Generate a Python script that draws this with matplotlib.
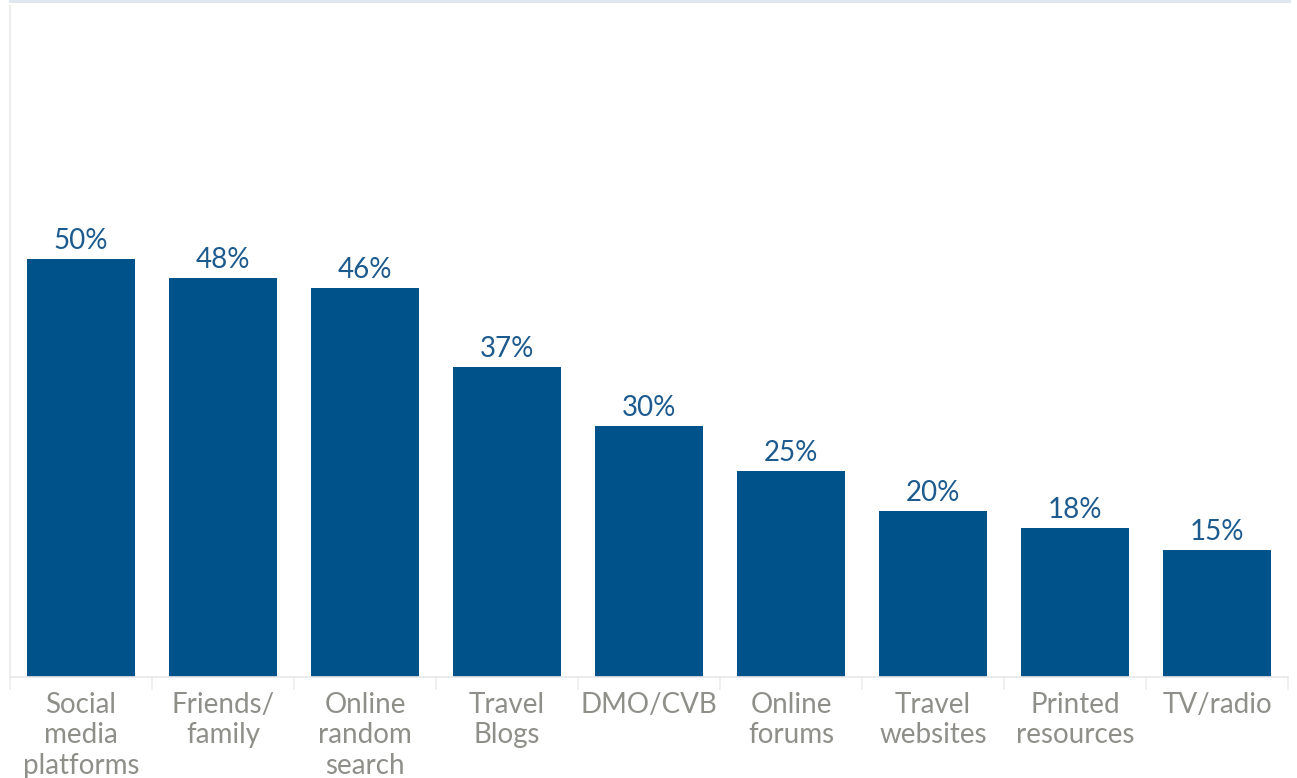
import matplotlib.pyplot as plt
import matplotlib as mpl
from matplotlib.lines import Line2D

mpl.use('Agg')
plt.rcParams['font.family'] = ['Lato', 'DejaVu Sans']

# data
categories = ["Social\nmedia\nplatforms", "Friends/\nfamily", "Online\nrandom\nsearch",
              "Travel\nBlogs", "DMO/CVB", "Online\nforums", "Travel\nwebsites",
              "Printed\nresources", "TV/radio"]
# bar heights as drawn (labels are rounded shares)
values = [50, 47.7, 46.5, 37.1, 30.0, 24.6, 19.9, 17.8, 15.2]
value_labels = ["50%", "48%", "46%", "37%", "30%", "25%", "20%", "18%", "15%"]

bar_color = '#00538a'
label_color = '#1d5a8e'
tick_color = '#8f8f8a'

fig = plt.figure(figsize=(12.97, 7.78), dpi=100)
ax = fig.add_axes([10 / 1297, 101 / 778, 1278 / 1297, 671 / 778])

x = list(range(len(values)))
bars = ax.bar(x, values, width=0.755, color=bar_color, zorder=2)

for b, v, lab in zip(bars, values, value_labels):
    ax.text(b.get_x() + b.get_width() / 2, v + 0.6, lab, ha='center', va='bottom',
            fontsize=20, color=label_color)

ax.set_xlim(-0.5, len(values) - 0.5)
ax.set_ylim(0, 80.3)
ax.set_yticks([])
ax.set_xticks(x)
ax.set_xticklabels(categories, fontsize=20, color=tick_color, linespacing=1.2)
ax.tick_params(axis='x', length=0, pad=11)

# separators between categories
for i in range(len(values) + 1):
    ax.plot([i - 0.5, i - 0.5], [0, -1.4], color='#ececec', lw=1.2, clip_on=False)

for s in ['top', 'right']:
    ax.spines[s].set_visible(False)
ax.spines['left'].set_color('#eeeeee')
ax.spines['left'].set_linewidth(1.5)
ax.spines['bottom'].set_color('#e8e8e8')
ax.spines['bottom'].set_linewidth(1.2)

# thin light line along the top edge
fig.add_artist(Line2D([10 / 1297, 1289 / 1297], [777.5 / 778, 777.5 / 778],
                      color='#dde6ef', lw=2, transform=fig.transFigure))

fig.savefig('out.png', dpi=100)
